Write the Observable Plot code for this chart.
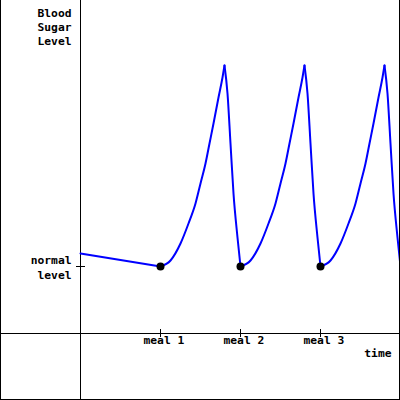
<!DOCTYPE html>
<html>
<head>
<meta charset="utf-8">
<script src="https://cdn.jsdelivr.net/npm/d3@7"></script>
<script src="https://cdn.jsdelivr.net/npm/@observablehq/plot@0.6"></script>
<style>
  html, body { margin: 0; padding: 0; background: #fff; }
  #wrap { position: relative; width: 400px; height: 400px; }
  #border { position: absolute; left: 0; top: 0; width: 400px; height: 400px; box-sizing: border-box;
            border-left: 1px solid #000; border-right: 1px solid #000; border-bottom: 1px solid #000; pointer-events: none; }
  svg { display: block; }
</style>
</head>
<body>
<div id="wrap"><div id="border"></div></div>
<script>
// Time axis (arbitrary units) and blood sugar level (arbitrary units)
const time  = [0, 80, 90, 100, 108, 115, 120, 125, 129, 133, 138, 142, 144, 147, 150, 153, 157, 160,
               170, 180, 188, 195, 200, 205, 209, 213, 218, 222, 224, 227, 230, 233, 237, 240,
               250, 260, 268, 275, 280, 285, 289, 293, 298, 302, 304, 307, 310, 313, 317, 320];
const level = [80, 67, 73, 90, 110, 130, 150, 170, 190, 210, 236, 256, 268, 240, 190, 140, 96, 67,
               73, 90, 110, 130, 150, 170, 190, 210, 236, 256, 268, 240, 190, 140, 96, 67,
               73, 90, 110, 130, 150, 170, 190, 210, 236, 256, 268, 240, 190, 140, 96, 67];
const mealTime  = [80, 160, 240];
const mealLabel = ["meal 1", "meal 2", "meal 3"];
const normalLevel = 67;
const yTitle = "Blood\nSugar\nLevel";
const normalLabel = "normal\nlevel";
const xTitle = "time";

// split the trace into monotone pieces at its turning points (turning points shared)
const data = [];
let seg = 0;
for (let i = 0; i < time.length; ++i) {
  data.push({t: time[i], v: level[i], seg});
  if (i > 0 && i < time.length - 1) {
    const a = level[i] - level[i - 1], b = level[i + 1] - level[i];
    if (Math.sign(a) !== Math.sign(b)) {
      seg++;
      data.push({t: time[i], v: level[i], seg});
    }
  }
}
const font = {fontFamily: "DejaVu Sans Mono", fontSize: 11.3, fontWeight: "bold", fill: "#000"};

const chart = Plot.plot({
  width: 400,
  height: 400,
  marginLeft: 80,
  marginRight: 0,
  marginTop: 0,
  marginBottom: 67,
  x: {domain: [0, 320], axis: null},
  y: {domain: [0, 333], axis: null},
  style: {background: "#fff"},
  marks: [
    // axes lines
    Plot.ruleX([0], {stroke: "#000", insetBottom: -67}),
    Plot.ruleY([0], {stroke: "#000", insetLeft: -80}),
    // ticks
    Plot.ruleX(mealTime, {stroke: "#000", insetTop: 329, insetBottom: -4}),
    Plot.ruleY([normalLevel], {stroke: "#000", insetLeft: -4, insetRight: 315}),
    // curve
    Plot.line(data, {x: "t", y: "v", z: "seg", stroke: "#0000ff", strokeWidth: 2, curve: "monotone-x"}),
    Plot.dot(mealTime, {x: d => d, y: () => normalLevel, r: 4, fill: "#000", stroke: "none"}),
    // labels
    Plot.text([yTitle], {text: d => d, frameAnchor: "top-left", textAnchor: "end", lineAnchor: "bottom",
      lineHeight: 1.22, dx: -9, dy: 44.5, ...font}),
    Plot.text([normalLevel], {y: d => d, text: () => normalLabel, frameAnchor: "left", textAnchor: "end",
      lineAnchor: "bottom", lineHeight: 1.36, dx: -9, dy: 12.7, ...font}),
    Plot.text(mealTime, {x: d => d, text: (d, i) => mealLabel[i], frameAnchor: "bottom", textAnchor: "start",
      lineAnchor: "bottom", dx: -17, dy: 10, ...font}),
    Plot.text([xTitle], {text: d => d, frameAnchor: "bottom-right", textAnchor: "end", lineAnchor: "bottom",
      dx: -9, dy: 23, ...font})
  ]
});
document.getElementById("wrap").prepend(chart);
</script>
</body>
</html>
